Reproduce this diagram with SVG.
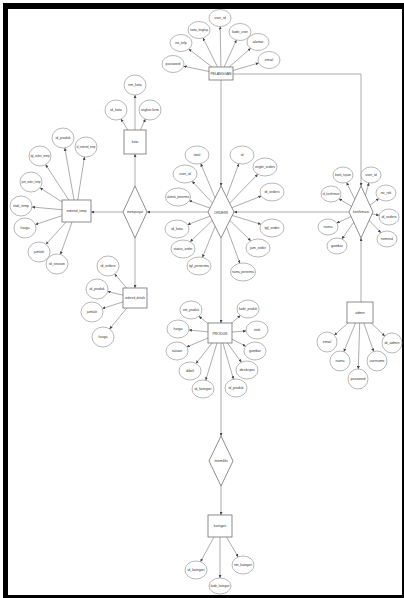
<svg xmlns="http://www.w3.org/2000/svg" width="404" height="598" viewBox="0 0 404 598">
<style>
.ln{stroke:#808080;stroke-width:0.65;fill:none}
.at{fill:#fff;stroke:#888;stroke-width:0.6}
.bx{fill:#fff;stroke:#707070;stroke-width:0.8}
.t{font-family:"Liberation Sans",Arial,sans-serif;font-size:3.5px;fill:#333;text-anchor:middle;dominant-baseline:central}
.tb{font-family:"Liberation Sans",Arial,sans-serif;font-size:4px;fill:#333;text-anchor:middle;dominant-baseline:central}
</style>
<defs>
<marker id="a" viewBox="0 0 6 6" refX="6" refY="3" markerWidth="3" markerHeight="3" orient="auto" markerUnits="userSpaceOnUse"><path d="M0,0L6,3L0,6z" fill="#444"/></marker>
</defs>
<rect x="0" y="0" width="404" height="598" fill="#fff"/>
<rect x="3" y="3" width="401" height="6" fill="#000"/>
<rect x="3" y="3" width="5" height="595" fill="#000"/>
<rect x="402" y="3" width="2" height="595" fill="#000"/>
<rect x="3" y="595" width="401" height="3" fill="#000"/>

<g id="connectors" class="ln" marker-end="url(#a)">
<line x1="221" y1="80" x2="221" y2="186"/>
<line x1="221" y1="238" x2="221" y2="323"/>
<line x1="221" y1="343" x2="221" y2="436"/>
<line x1="221" y1="486" x2="221" y2="515"/>
<polyline points="233,74 361,74 361,186"/>
<line x1="361" y1="302" x2="361" y2="238"/>
<line x1="349" y1="212" x2="234" y2="212"/>
<line x1="208" y1="212" x2="147" y2="212"/>
<line x1="123" y1="212" x2="91" y2="212"/>
<line x1="135" y1="186" x2="135" y2="154"/>
<line x1="135" y1="238" x2="135" y2="288"/>
<line x1="221" y1="74" x2="220.2" y2="26.5"/>
<line x1="221" y1="74" x2="203" y2="37.9"/>
<line x1="221" y1="74" x2="236.4" y2="40"/>
<line x1="221" y1="74" x2="188.8" y2="49"/>
<line x1="221" y1="74" x2="250.7" y2="48.3"/>
<line x1="221" y1="74" x2="183.6" y2="66.2"/>
<line x1="221" y1="74" x2="258.7" y2="63"/>
<line x1="135" y1="142" x2="135" y2="95"/>
<line x1="135" y1="142" x2="121" y2="118.9"/>
<line x1="135" y1="142" x2="145.4" y2="119.1"/>
<line x1="76" y1="211" x2="64.8" y2="147.9"/>
<line x1="76" y1="211" x2="84.5" y2="156.9"/>
<line x1="76" y1="211" x2="45.6" y2="164.6"/>
<line x1="76" y1="211" x2="40" y2="187.8"/>
<line x1="76" y1="211" x2="32" y2="207"/>
<line x1="76" y1="211" x2="35.3" y2="224.6"/>
<line x1="76" y1="211" x2="46" y2="244.3"/>
<line x1="76" y1="211" x2="60.4" y2="254.5"/>
<line x1="135" y1="298" x2="114.7" y2="273.9"/>
<line x1="135" y1="298" x2="107.6" y2="291.5"/>
<line x1="135" y1="298" x2="102.3" y2="308.6"/>
<line x1="135" y1="298" x2="109.6" y2="329"/>
<line x1="221" y1="212" x2="200.7" y2="163.6"/>
<line x1="221" y1="212" x2="192.1" y2="181.3"/>
<line x1="221" y1="212" x2="189" y2="200.6"/>
<line x1="221" y1="212" x2="187.5" y2="224.7"/>
<line x1="221" y1="212" x2="190.2" y2="241.8"/>
<line x1="221" y1="212" x2="202.4" y2="257.4"/>
<line x1="221" y1="212" x2="239.9" y2="263.3"/>
<line x1="221" y1="212" x2="250.8" y2="240.8"/>
<line x1="221" y1="212" x2="261" y2="224.3"/>
<line x1="221" y1="212" x2="261.3" y2="196"/>
<line x1="221" y1="212" x2="257.8" y2="174.2"/>
<line x1="221" y1="212" x2="238.8" y2="163.7"/>
<line x1="361" y1="212" x2="346.6" y2="182.5"/>
<line x1="361" y1="212" x2="368.9" y2="182.8"/>
<line x1="361" y1="212" x2="339" y2="198.8"/>
<line x1="361" y1="212" x2="378.8" y2="198.5"/>
<line x1="361" y1="212" x2="379.2" y2="215.3"/>
<line x1="361" y1="212" x2="336.7" y2="223.1"/>
<line x1="361" y1="212" x2="380.9" y2="232.7"/>
<line x1="361" y1="212" x2="341.9" y2="239"/>
<line x1="360" y1="312" x2="334.4" y2="335.3"/>
<line x1="360" y1="312" x2="343.8" y2="351.7"/>
<line x1="360" y1="312" x2="358.3" y2="369"/>
<line x1="360" y1="312" x2="373.7" y2="351.6"/>
<line x1="360" y1="312" x2="384.8" y2="336.1"/>
<line x1="220" y1="333" x2="198.9" y2="316.3"/>
<line x1="220" y1="333" x2="240.4" y2="315.5"/>
<line x1="220" y1="333" x2="188.9" y2="330"/>
<line x1="220" y1="333" x2="246.1" y2="330.9"/>
<line x1="220" y1="333" x2="186.8" y2="346.9"/>
<line x1="220" y1="333" x2="245.7" y2="346.2"/>
<line x1="220" y1="333" x2="196" y2="363.4"/>
<line x1="220" y1="333" x2="241.4" y2="362.3"/>
<line x1="220" y1="333" x2="205.7" y2="380.3"/>
<line x1="220" y1="333" x2="233.5" y2="379.2"/>
<line x1="220" y1="526" x2="200.5" y2="561.8"/>
<line x1="220" y1="526" x2="220" y2="578"/>
<line x1="220" y1="526" x2="238.2" y2="556.9"/>
</g>

<g id="pelanggan"><rect class="bx" x="209" y="67" width="24" height="13"/><text class="tb" x="221" y="73.5" textLength="21" lengthAdjust="spacingAndGlyphs">PELANGGAN</text></g>
<g id="orders"><polygon class="bx" points="221,186 234,212 221,238 208,212"/><text class="tb" x="221" y="212" textLength="14" lengthAdjust="spacingAndGlyphs">ORDERS</text></g>
<g id="konfirmasi"><polygon class="bx" points="361,186 373,212 361,238 349,212"/><text class="t" x="361" y="212" textLength="16" lengthAdjust="spacingAndGlyphs">konfirmasi</text></g>
<g id="mempunyai"><polygon class="bx" points="135,186 147,212 135,238 123,212"/><text class="t" x="135" y="212" textLength="16" lengthAdjust="spacingAndGlyphs">mempunyai</text></g>
<g id="kota"><rect class="bx" x="124" y="130" width="22" height="24"/><text class="t" x="135" y="142">kota</text></g>
<g id="ordered_temp"><rect class="bx" x="62" y="200" width="29" height="22"/><text class="t" x="76.5" y="211" textLength="20" lengthAdjust="spacingAndGlyphs">ordered_temp</text></g>
<g id="ordered_details"><rect class="bx" x="123" y="288" width="24" height="20"/><text class="t" x="135" y="298" textLength="20" lengthAdjust="spacingAndGlyphs">ordered_details</text></g>
<g id="produk"><rect class="bx" x="208" y="323" width="24" height="20"/><text class="tb" x="220" y="333" textLength="15" lengthAdjust="spacingAndGlyphs">PRODUK</text></g>
<g id="admin"><rect class="bx" x="347" y="302" width="26" height="21"/><text class="t" x="360" y="312.5">admin</text></g>
<g id="memiliki"><polygon class="bx" points="221,436 233,461 221,486 209,461"/><text class="t" x="221" y="461" textLength="13" lengthAdjust="spacingAndGlyphs">memiliki</text></g>
<g id="kategori"><rect class="bx" x="208" y="515" width="24" height="22"/><text class="t" x="220" y="526">kategori</text></g>

<g id="p-user_id"><ellipse class="at" cx="220" cy="18" rx="11" ry="8.5"/><text class="t" x="220" y="18">user_id</text></g>
<g id="p-nama_lengkap"><ellipse class="at" cx="199" cy="30" rx="11" ry="8.5"/><text class="t" x="199" y="30" textLength="18" lengthAdjust="spacingAndGlyphs">nama_lengkap</text></g>
<g id="p-kode_user"><ellipse class="at" cx="240" cy="32" rx="11" ry="8.5"/><text class="t" x="240" y="32" textLength="16" lengthAdjust="spacingAndGlyphs">kode_user</text></g>
<g id="p-no_telp"><ellipse class="at" cx="181" cy="43" rx="11" ry="8.5"/><text class="t" x="181" y="43">no_telp</text></g>
<g id="p-alamat"><ellipse class="at" cx="258" cy="42" rx="11" ry="8.5"/><text class="t" x="258" y="42">alamat</text></g>
<g id="p-password"><ellipse class="at" cx="173" cy="64" rx="11" ry="8.5"/><text class="t" x="173" y="64" textLength="15" lengthAdjust="spacingAndGlyphs">password</text></g>
<g id="p-email"><ellipse class="at" cx="269" cy="60" rx="11" ry="8.5"/><text class="t" x="269" y="60">email</text></g>

<g id="k-nm_kota"><ellipse class="at" cx="135" cy="85" rx="11" ry="10"/><text class="t" x="135" y="85">nm_kota</text></g>
<g id="k-id_kota"><ellipse class="at" cx="116" cy="110" rx="11" ry="10"/><text class="t" x="116" y="110">id_kota</text></g>
<g id="k-ongkos_kirim"><ellipse class="at" cx="150" cy="110" rx="11" ry="10"/><text class="t" x="150" y="110" textLength="18" lengthAdjust="spacingAndGlyphs">ongkos kirim</text></g>

<g id="ot-id_produk"><ellipse class="at" cx="63" cy="138" rx="11" ry="10"/><text class="t" x="63" y="138" textLength="15" lengthAdjust="spacingAndGlyphs">id_produk</text></g>
<g id="ot-id_ordered_temp"><ellipse class="at" cx="86" cy="147" rx="11" ry="10"/><text class="t" x="86" y="147" textLength="19" lengthAdjust="spacingAndGlyphs">id_ordered_temp</text></g>
<g id="ot-tgl_order_temp"><ellipse class="at" cx="40" cy="156" rx="11" ry="10"/><text class="t" x="40" y="156" textLength="19" lengthAdjust="spacingAndGlyphs">tgl_order_temp</text></g>
<g id="ot-jam_order_temp"><ellipse class="at" cx="31" cy="182" rx="11" ry="10"/><text class="t" x="31" y="182" textLength="19" lengthAdjust="spacingAndGlyphs">jam_order_temp</text></g>
<g id="ot-stok_temp"><ellipse class="at" cx="21" cy="206" rx="11" ry="10"/><text class="t" x="21" y="206" textLength="16" lengthAdjust="spacingAndGlyphs">stok_temp</text></g>
<g id="ot-harga"><ellipse class="at" cx="25" cy="228" rx="11" ry="10"/><text class="t" x="25" y="228">harga</text></g>
<g id="ot-jumlah"><ellipse class="at" cx="39" cy="252" rx="11" ry="10"/><text class="t" x="39" y="252">jumlah</text></g>
<g id="ot-id_session"><ellipse class="at" cx="57" cy="264" rx="11" ry="10"/><text class="t" x="57" y="264" textLength="16" lengthAdjust="spacingAndGlyphs">id_session</text></g>

<g id="od-id_orders"><ellipse class="at" cx="108" cy="266" rx="11" ry="10"/><text class="t" x="108" y="266" textLength="15" lengthAdjust="spacingAndGlyphs">id_orders</text></g>
<g id="od-id_produk"><ellipse class="at" cx="97" cy="289" rx="11" ry="10"/><text class="t" x="97" y="289" textLength="15" lengthAdjust="spacingAndGlyphs">id_produk</text></g>
<g id="od-jumlah"><ellipse class="at" cx="92" cy="312" rx="11" ry="10"/><text class="t" x="92" y="312">jumlah</text></g>
<g id="od-harga"><ellipse class="at" cx="103" cy="337" rx="11" ry="10"/><text class="t" x="103" y="337">harga</text></g>

<g id="o-total"><ellipse class="at" cx="197" cy="155" rx="12" ry="9"/><text class="t" x="197" y="155">total</text></g>
<g id="o-id"><ellipse class="at" cx="242" cy="155" rx="12" ry="9"/><text class="t" x="242" y="155">id</text></g>
<g id="o-user_id"><ellipse class="at" cx="185" cy="174" rx="12" ry="9"/><text class="t" x="185" y="174">user_id</text></g>
<g id="o-ongkir_orders"><ellipse class="at" cx="265" cy="167" rx="12" ry="9"/><text class="t" x="265" y="167" textLength="20" lengthAdjust="spacingAndGlyphs">ongkir_orders</text></g>
<g id="o-alamat_penerima"><ellipse class="at" cx="178" cy="197" rx="12.5" ry="9"/><text class="t" x="178" y="197" textLength="22" lengthAdjust="spacingAndGlyphs">alamat_penerima</text></g>
<g id="o-id_orders"><ellipse class="at" cx="272" cy="192" rx="12" ry="9"/><text class="t" x="272" y="192" textLength="15" lengthAdjust="spacingAndGlyphs">id_orders</text></g>
<g id="o-id_kota"><ellipse class="at" cx="177" cy="229" rx="12" ry="9"/><text class="t" x="177" y="229">id_kota</text></g>
<g id="o-tgl_order"><ellipse class="at" cx="272" cy="228" rx="12" ry="9"/><text class="t" x="272" y="228" textLength="15" lengthAdjust="spacingAndGlyphs">tgl_order</text></g>
<g id="o-status_order"><ellipse class="at" cx="183" cy="249" rx="12" ry="9"/><text class="t" x="183" y="249" textLength="19" lengthAdjust="spacingAndGlyphs">status_order</text></g>
<g id="o-jam_order"><ellipse class="at" cx="258" cy="248" rx="12" ry="9"/><text class="t" x="258" y="248" textLength="16" lengthAdjust="spacingAndGlyphs">jam_order</text></g>
<g id="o-tgl_penerima"><ellipse class="at" cx="199" cy="266" rx="12" ry="9"/><text class="t" x="199" y="266" textLength="20" lengthAdjust="spacingAndGlyphs">tgl_penerima</text></g>
<g id="o-nama_penerima"><ellipse class="at" cx="243" cy="272" rx="12.5" ry="9"/><text class="t" x="243" y="272" textLength="22" lengthAdjust="spacingAndGlyphs">nama_penerima</text></g>

<g id="c-bank_tujuan"><ellipse class="at" cx="343" cy="175" rx="10" ry="8"/><text class="t" x="343" y="175" textLength="16" lengthAdjust="spacingAndGlyphs">bank_tujuan</text></g>
<g id="c-user_id"><ellipse class="at" cx="371" cy="175" rx="10" ry="8"/><text class="t" x="371" y="175">user_id</text></g>
<g id="c-id_konfirmasi"><ellipse class="at" cx="331" cy="194" rx="10" ry="8"/><text class="t" x="331" y="194" textLength="17" lengthAdjust="spacingAndGlyphs">id_konfirmasi</text></g>
<g id="c-no_rek"><ellipse class="at" cx="386" cy="193" rx="10" ry="8"/><text class="t" x="386" y="193">no_rek</text></g>
<g id="c-id_orders"><ellipse class="at" cx="389" cy="217" rx="10" ry="8"/><text class="t" x="389" y="217" textLength="15" lengthAdjust="spacingAndGlyphs">id_orders</text></g>
<g id="c-nama"><ellipse class="at" cx="328" cy="227" rx="10" ry="8"/><text class="t" x="328" y="227">nama</text></g>
<g id="c-nominal"><ellipse class="at" cx="387" cy="239" rx="10" ry="8"/><text class="t" x="387" y="239">nominal</text></g>
<g id="c-gambar"><ellipse class="at" cx="337" cy="246" rx="10" ry="8"/><text class="t" x="337" y="246">gambar</text></g>

<g id="a-email"><ellipse class="at" cx="327" cy="342" rx="10" ry="10"/><text class="t" x="327" y="342">email</text></g>
<g id="a-nama"><ellipse class="at" cx="340" cy="361" rx="10" ry="10"/><text class="t" x="340" y="361">nama</text></g>
<g id="a-password"><ellipse class="at" cx="358" cy="379" rx="10" ry="10"/><text class="t" x="358" y="379" textLength="15" lengthAdjust="spacingAndGlyphs">password</text></g>
<g id="a-username"><ellipse class="at" cx="377" cy="361" rx="10" ry="10"/><text class="t" x="377" y="361" textLength="15" lengthAdjust="spacingAndGlyphs">username</text></g>
<g id="a-id_admin"><ellipse class="at" cx="392" cy="343" rx="10" ry="10"/><text class="t" x="392" y="343" textLength="15" lengthAdjust="spacingAndGlyphs">id_admin</text></g>

<g id="pr-nm_produk"><ellipse class="at" cx="191" cy="310" rx="11" ry="9"/><text class="t" x="191" y="310" textLength="16" lengthAdjust="spacingAndGlyphs">nm_produk</text></g>
<g id="pr-kode_produk"><ellipse class="at" cx="248" cy="309" rx="11" ry="9"/><text class="t" x="248" y="309" textLength="18" lengthAdjust="spacingAndGlyphs">kode_produk</text></g>
<g id="pr-harga"><ellipse class="at" cx="178" cy="329" rx="11" ry="9"/><text class="t" x="178" y="329">harga</text></g>
<g id="pr-stok"><ellipse class="at" cx="257" cy="330" rx="11" ry="9"/><text class="t" x="257" y="330">stok</text></g>
<g id="pr-satuan"><ellipse class="at" cx="177" cy="351" rx="11" ry="9"/><text class="t" x="177" y="351">satuan</text></g>
<g id="pr-gambar"><ellipse class="at" cx="255" cy="351" rx="11" ry="9"/><text class="t" x="255" y="351">gambar</text></g>
<g id="pr-dibeli"><ellipse class="at" cx="190" cy="371" rx="11" ry="9"/><text class="t" x="190" y="371">dibeli</text></g>
<g id="pr-deskripsi"><ellipse class="at" cx="247" cy="370" rx="11" ry="9"/><text class="t" x="247" y="370" textLength="15" lengthAdjust="spacingAndGlyphs">deskripsi</text></g>
<g id="pr-id_kategori"><ellipse class="at" cx="203" cy="389" rx="11" ry="9"/><text class="t" x="203" y="389" textLength="17" lengthAdjust="spacingAndGlyphs">id_kategori</text></g>
<g id="pr-id_produk"><ellipse class="at" cx="236" cy="388" rx="11" ry="9"/><text class="t" x="236" y="388" textLength="15" lengthAdjust="spacingAndGlyphs">id_produk</text></g>

<g id="kt-id_kategori"><ellipse class="at" cx="196" cy="570" rx="11" ry="9"/><text class="t" x="196" y="570" textLength="17" lengthAdjust="spacingAndGlyphs">id_kategori</text></g>
<g id="kt-kode_kategori"><ellipse class="at" cx="220" cy="586" rx="11" ry="8"/><text class="t" x="220" y="586" textLength="19" lengthAdjust="spacingAndGlyphs">kode_kategori</text></g>
<g id="kt-nm_kategori"><ellipse class="at" cx="243" cy="565" rx="11" ry="9"/><text class="t" x="243" y="565" textLength="18" lengthAdjust="spacingAndGlyphs">nm_kategori</text></g>
</svg>
